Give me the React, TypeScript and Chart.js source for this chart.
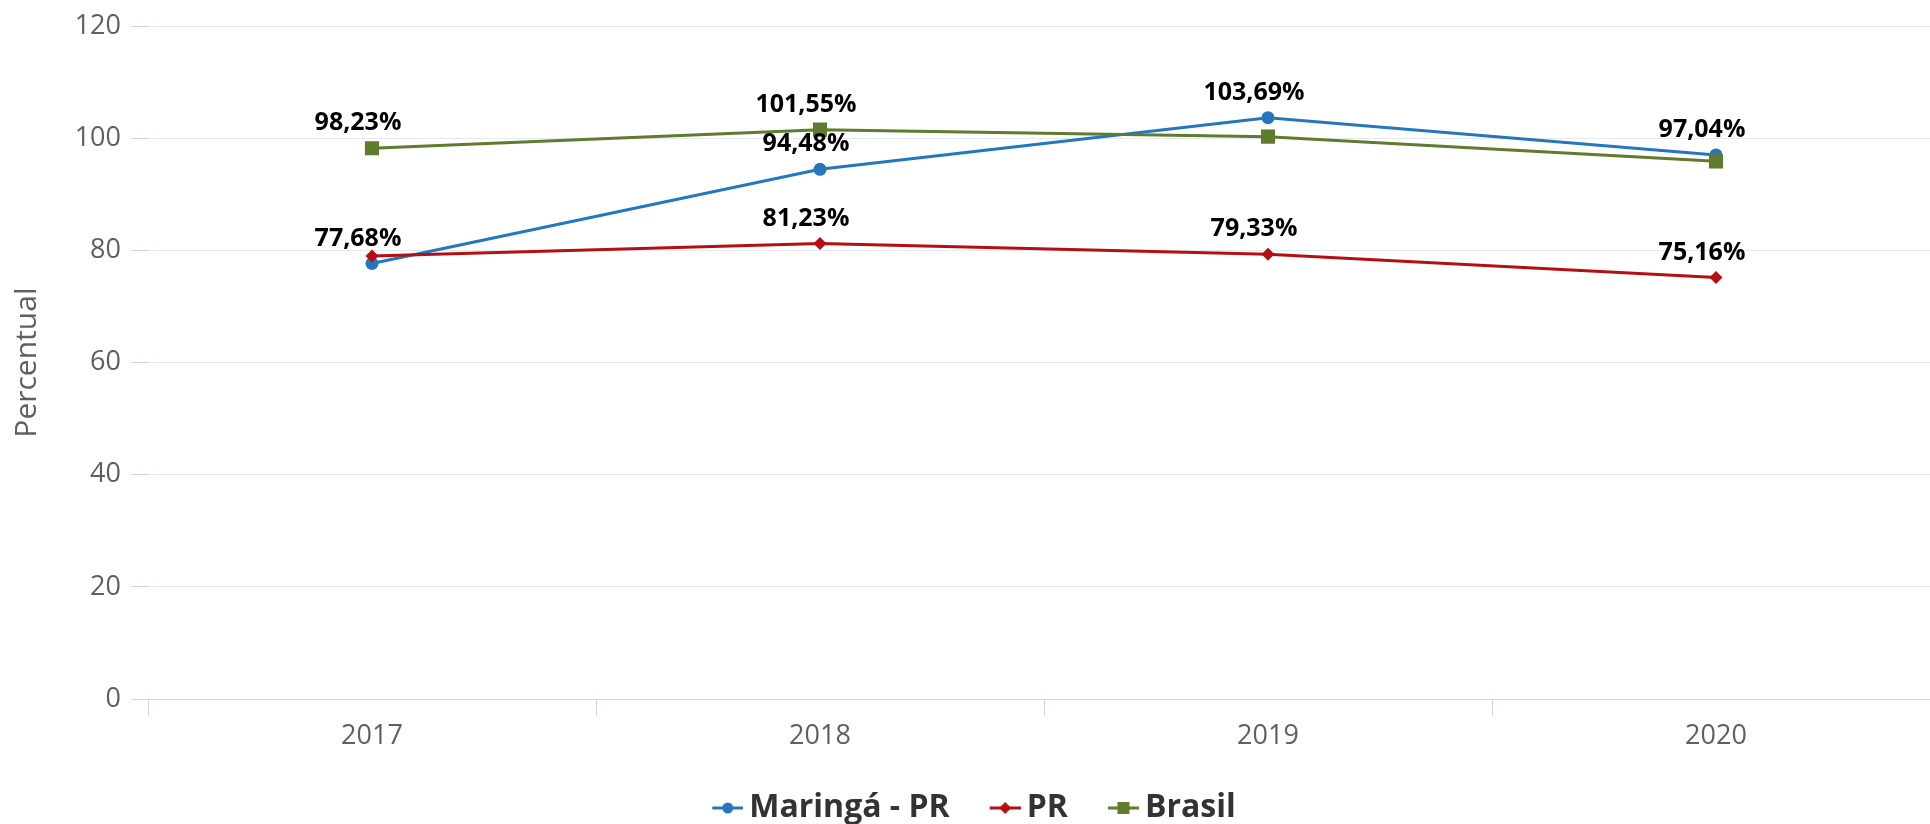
import React, { useEffect, useRef } from "react";
import { Chart, registerables } from "chart.js";

Chart.register(...registerables);

// ---- Data ----
const categories = ["2017", "2018", "2019", "2020"];
const seriesNames = ["Maringá - PR", "PR", "Brasil"];
const maringaValues = [77.68, 94.48, 103.69, 97.04];
const prValues = [79.0, 81.23, 79.33, 75.16];
const brasilValues = [98.23, 101.55, 100.3, 95.9];
const maringaLabelShown = [true, true, true, true];
const prLabelShown = [false, true, true, true];
const brasilLabelShown = [true, true, false, false];
const yTickValues = [0, 20, 40, 60, 80, 100, 120];
const yTitle = "Percentual";

// ---- Styles ----
const FONT = "'Open Sans', sans-serif";
const BLUE = "#2477bd";
const RED = "#b50f12";
const GREEN = "#5f7b2e";
const AXIS_TEXT = "#5f5f5f";
const LEGEND_FS = 32;

function makeLegendMarker(color: string, style: string): HTMLCanvasElement {
  const W = 44;
  const H = 16;
  const c = document.createElement("canvas");
  c.width = W;
  c.height = H;
  const ctx = c.getContext("2d")!;
  const x0 = W - 31;
  const cx = x0 + 15.5;
  const cy = H / 2;
  ctx.strokeStyle = color;
  ctx.lineWidth = 3;
  ctx.beginPath();
  ctx.moveTo(x0, cy);
  ctx.lineTo(W, cy);
  ctx.stroke();
  ctx.fillStyle = color;
  if (style === "circle") {
    ctx.beginPath();
    ctx.arc(cx, cy, 5.5, 0, Math.PI * 2);
    ctx.fill();
  } else if (style === "rectRot") {
    ctx.beginPath();
    ctx.moveTo(cx, cy - 6);
    ctx.lineTo(cx + 6, cy);
    ctx.lineTo(cx, cy + 6);
    ctx.lineTo(cx - 6, cy);
    ctx.closePath();
    ctx.fill();
  } else {
    ctx.fillRect(cx - 6, cy - 6, 12, 12);
  }
  return c;
}

const fmt = (v: number) => v.toFixed(2).replace(".", ",") + "%";

const dataLabelPlugin = {
  id: "pointLabels",
  afterDatasetsDraw(chart: any) {
    const ctx = chart.ctx;
    ctx.save();
    ctx.font = `bold 25px ${FONT}`;
    ctx.fillStyle = "#000";
    ctx.textAlign = "center";
    ctx.textBaseline = "middle";
    chart.data.datasets.forEach((ds: any, di: number) => {
      const meta = chart.getDatasetMeta(di);
      meta.data.forEach((pt: any, i: number) => {
        if (!ds.labelShown[i]) return;
        ctx.fillText(fmt(ds.data[i]), pt.x - 14, pt.y - 25);
      });
    });
    ctx.restore();
  },
};

export default function App() {
  const canvasRef = useRef<HTMLCanvasElement | null>(null);

  useEffect(() => {
    const canvas = canvasRef.current;
    if (!canvas) return;
    Chart.defaults.font.family = FONT;
    const markers = [
      makeLegendMarker(BLUE, "circle"),
      makeLegendMarker(RED, "rectRot"),
      makeLegendMarker(GREEN, "rect"),
    ];
    const chart = new Chart(canvas, {
      type: "line",
      data: {
        labels: categories,
        datasets: [
          {
            label: seriesNames[0],
            data: maringaValues,
            labelShown: maringaLabelShown,
            borderColor: BLUE,
            backgroundColor: BLUE,
            pointBackgroundColor: BLUE,
            pointBorderColor: BLUE,
            pointStyle: "circle",
            pointRadius: 6.5,
            pointBorderWidth: 0,
            borderWidth: 3,
            tension: 0,
            fill: false,
            order: 3,
          } as any,
          {
            label: seriesNames[1],
            data: prValues,
            labelShown: prLabelShown,
            borderColor: RED,
            backgroundColor: RED,
            pointBackgroundColor: RED,
            pointBorderColor: RED,
            pointStyle: "rectRot",
            pointRadius: 6.5,
            pointBorderWidth: 0,
            borderWidth: 3,
            tension: 0,
            fill: false,
            order: 2,
          } as any,
          {
            label: seriesNames[2],
            data: brasilValues,
            labelShown: brasilLabelShown,
            borderColor: GREEN,
            backgroundColor: GREEN,
            pointBackgroundColor: GREEN,
            pointBorderColor: GREEN,
            pointStyle: "rect",
            pointRadius: 10,
            pointBorderWidth: 0,
            borderWidth: 3,
            tension: 0,
            fill: false,
            order: 1,
          } as any,
        ],
      },
      options: {
        responsive: false,
        animation: false,
        devicePixelRatio: 1,
        layout: { padding: { left: 0, right: 5, top: 24, bottom: -10 } },
        plugins: {
          tooltip: { enabled: false },
          legend: {
            display: true,
            position: "bottom",
            labels: {
              usePointStyle: true,
              pointStyleWidth: 24,
              padding: 37,
              color: "#333",
              font: { family: FONT, size: LEGEND_FS, weight: "bold" },
              generateLabels: (ch: any) =>
                ch.data.datasets.map((ds: any, i: number) => ({
                  text: ds.label,
                  fillStyle: ds.borderColor,
                  strokeStyle: ds.borderColor,
                  lineWidth: 0,
                  pointStyle: markers[i],
                  hidden: !ch.isDatasetVisible(i),
                  datasetIndex: i,
                  fontColor: "#333",
                })),
            },
          },
        },
        scales: {
          x: {
            type: "category",
            offset: true,
            grid: {
              offset: true,
              drawOnChartArea: false,
              drawTicks: true,
              tickLength: 17,
              tickColor: "#ccd6eb",
              lineWidth: 1,
            },
            border: { display: true, color: "#ccd6eb", width: 1 },
            ticks: {
              color: AXIS_TEXT,
              font: { family: FONT, size: 27 },
              padding: 4,
              maxRotation: 0,
            },
            afterFit: (s: any) => {
              s.height = 56;
            },
          },
          y: {
            min: 0,
            max: 120,
            afterBuildTicks: (s: any) => {
              s.ticks = yTickValues.map((v) => ({ value: v }));
            },
            ticks: {
              color: AXIS_TEXT,
              font: { family: FONT, size: 27 },
              padding: 10,
            },
            grid: {
              color: "#e6e9ef",
              tickColor: "#ccd6eb",
              tickLength: 17,
              lineWidth: 1,
            },
            border: { display: false },
            title: {
              display: true,
              text: yTitle,
              color: AXIS_TEXT,
              font: { family: FONT, size: 30 },
              padding: { top: 9, bottom: 0 },
            },
            afterFit: (s: any) => {
              s.width = 148;
            },
          },
        },
      } as any,
      plugins: [dataLabelPlugin],
    });
    return () => chart.destroy();
  }, []);

  return (
    <div
      style={{
        position: "fixed",
        left: 0,
        top: 0,
        width: 1930,
        height: 824,
        overflow: "hidden",
        background: "#fff",
      }}
    >
      <canvas ref={canvasRef} width={1950} height={824} style={{ display: "block" }} />
    </div>
  );
}
